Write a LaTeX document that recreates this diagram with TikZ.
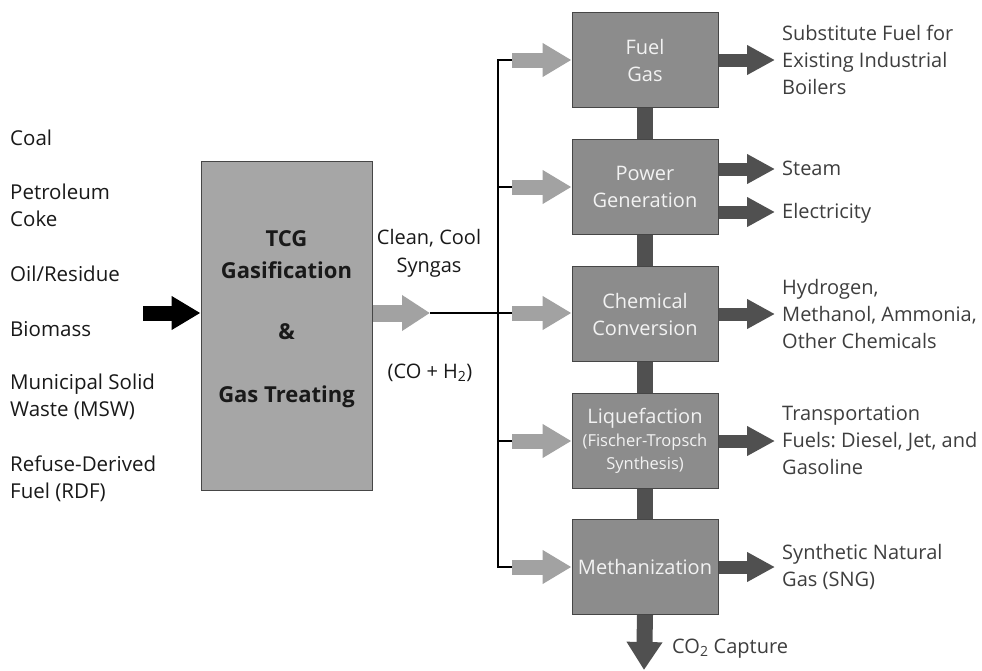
\documentclass[tikz,border=0pt]{standalone}
\usepackage{fontspec}
\setmainfont{Open Sans}
\usetikzlibrary{arrows.meta}
\definecolor{mainfill}{RGB}{166,166,166}
\definecolor{boxfill}{RGB}{140,140,140}
\definecolor{bord}{RGB}{70,70,70}
\definecolor{darkarrow}{RGB}{80,80,80}
\definecolor{lightarrow}{RGB}{162,162,162}
\definecolor{boxtext}{RGB}{242,242,242}
\definecolor{rtext}{RGB}{62,62,62}
\definecolor{ltext}{RGB}{25,25,25}
\begin{document}
\begin{tikzpicture}[x=1pt,y=-1pt,
  procbox/.style={draw=bord, line width=1pt, fill=boxfill, minimum width=146pt, minimum height=95pt,
    inner sep=0pt, text=boxtext, align=center, font=\fontsize{20}{27}\selectfont},
  mainbox/.style={draw=bord, line width=1pt, fill=mainfill, minimum width=171pt, minimum height=329pt, inner sep=0pt},
  maintext/.style={font=\bfseries\fontsize{22}{26}\selectfont, text=ltext, inner sep=0pt},
  lefttext/.style={anchor=west, align=left, inner sep=0pt, text=ltext, font=\fontsize{20.5}{27}\selectfont},
  righttext/.style={anchor=west, align=left, inner sep=0pt, text=rtext, font=\fontsize{20}{27}\selectfont},
  midtext/.style={align=center, inner sep=0pt, text=ltext, font=\fontsize{20}{28}\selectfont},
  lightarr/.style={draw=lightarrow, line width=15pt, -{Triangle[length=29pt,width=32pt]}},
  bigarr/.style={draw=lightarrow, line width=17pt, -{Triangle[length=28pt,width=34pt]}},
  blackarr/.style={draw=black, line width=15pt, -{Triangle[length=29pt,width=32pt]}},
  outarr/.style={draw=darkarrow, line width=13pt, -{Triangle[length=28pt,width=28pt]}},
  link/.style={draw=darkarrow, line width=16pt},
  co2arr/.style={draw=darkarrow, line width=16pt, -{Triangle[length=28pt,width=34pt]}},
  bus/.style={draw=black, line width=2pt}
]
\useasboundingbox[fill=white] (0,0) rectangle (982,670);

% left feed texts
\node[lefttext] (coal) at (10,138) {Coal};
\node[lefttext] (petcoke) at (10,205.5) {Petroleum\\Coke};
\node[lefttext] (oil) at (10,274) {Oil/Residue};
\node[lefttext] (bio) at (10,329) {Biomass};
\node[lefttext] (msw) at (10,396.5) {Municipal Solid\\Waste (MSW)};
\node[lefttext] (rdf) at (10,478.5) {Refuse-Derived\\Fuel (RDF)};

% main box
\node[mainbox] (main) at (286.5,325.5) {};
\node[maintext] (mt1) at (286.5,239) {TCG};
\node[maintext] (mt2) at (286.5,270) {Gasification};
\node[maintext] (mt3) at (286.5,332) {\&};
\node[maintext] (mt4) at (286.5,397) {Gas Treating};

\coordinate (feed) at (143,313);
\draw[blackarr] (feed) -- ([yshift=12.5pt]main.west);

\node[midtext] (syntext) at (429,253) {Clean, Cool\\Syngas};
\node[midtext] (cotext) at (430,373) {(CO + H\textsubscript{2})};

\coordinate (syn) at (430,313);
\draw[bigarr] ([yshift=12.5pt]main.east) -- (syn);

% process boxes
\node[procbox] (fuel) at (645,60) {Fuel\\Gas};
\node[procbox] (power) at (645,187) {Power\\Generation};
\node[procbox] (chem) at (645,314) {Chemical\\Conversion};
\node[procbox, font=\fontsize{16.5}{23}\selectfont] (liq) at (645,441) {{\fontsize{20}{23}\selectfont Liquefaction}\\(Fischer-Tropsch\\Synthesis)};
\node[procbox] (meth) at (645,567) {Methanization};

% links between boxes
\draw[link] (fuel.south) -- (power.north);
\draw[link] (power.south) -- (chem.north);
\draw[link] (chem.south) -- (liq.north);
\draw[link] (liq.south) -- (meth.north);

% bus
\coordinate (bf) at (498,60);
\coordinate (bp) at (498,187);
\coordinate (bc) at (498,313);
\coordinate (bl) at (498,441);
\coordinate (bm) at (498,567);
\coordinate (fin) at (512,60);
\coordinate (pin) at (512,187);
\coordinate (cin) at (512,313);
\coordinate (lin) at (512,441);
\coordinate (min) at (512,567);
\draw[bus, line cap=rect] (bf) -- (bm);
\draw[bus] (bf) -- (fin);
\draw[bus] (bp) -- (pin);
\draw[bus] (syn) -- (cin);
\draw[bus] (bl) -- (lin);
\draw[bus] (bm) -- (min);

\draw[lightarr] (fin) -- (fuel.west);
\draw[lightarr] (pin) -- (power.west);
\draw[lightarr] (cin) -- (chem.west |- cin);
\draw[lightarr] (lin) -- (liq.west);
\draw[lightarr] (min) -- (meth.west);

% outputs
\coordinate (fout) at (775,60);
\coordinate (sout) at (775,169);
\coordinate (eout) at (775,212);
\coordinate (cout) at (775,314);
\coordinate (lout) at (775,441);
\coordinate (mout) at (775,567);
\draw[outarr] (fuel.east) -- (fout);
\draw[outarr] ([yshift=18pt]power.east) -- (sout);
\draw[outarr] ([yshift=-25pt]power.east) -- (eout);
\draw[outarr] (chem.east) -- (cout);
\draw[outarr] (liq.east) -- (lout);
\draw[outarr] (meth.east) -- (mout);

\coordinate (co2) at (644,670);
\draw[co2arr] (meth.south) -- (co2);

% right texts
\node[righttext] (t1) at (782,60) {Substitute Fuel for\\Existing Industrial\\Boilers};
\node[righttext] (t2) at (782,168) {Steam};
\node[righttext] (t3) at (782,213) {Electricity};
\node[righttext] (t4) at (782,313.5) {Hydrogen,\\Methanol, Ammonia,\\Other Chemicals};
\node[righttext] (t5) at (782,440) {Transportation\\Fuels:\ Diesel, Jet, and\\Gasoline};
\node[righttext] (t6) at (782,566.5) {Synthetic Natural\\Gas (SNG)};
\node[righttext] (t7) at (672,649) {CO\textsubscript{2} Capture};
\end{tikzpicture}
\end{document}
